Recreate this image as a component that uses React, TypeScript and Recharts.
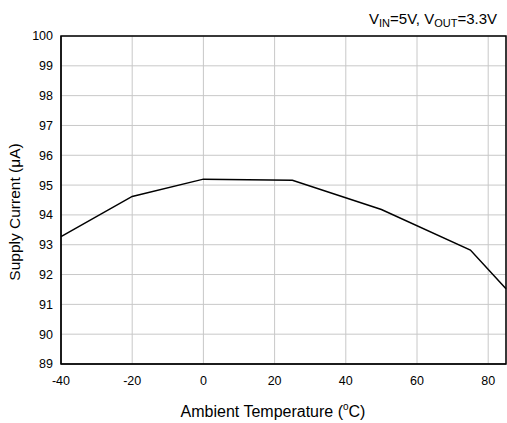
import React from "react";
import { LineChart, Line, XAxis, YAxis, CartesianGrid, ReferenceArea, Customized } from "recharts";

const temperatures = [-40, -20, 0, 25, 50, 75, 85];
const supplyCurrent = [93.27, 94.62, 95.2, 95.16, 94.18, 92.82, 91.52];
const xTicks = [-40, -20, 0, 20, 40, 60, 80];
const yTicks = [89, 90, 91, 92, 93, 94, 95, 96, 97, 98, 99, 100];

const data = temperatures.map((t, i) => ({ temp: t, current: supplyCurrent[i] }));

const font = "'Liberation Sans', Arial, sans-serif";

function Labels() {
  return (
    <g fontFamily={font} fill="#000">
      <text x={497} y={24} textAnchor="end" fontSize={15}>
        V<tspan fontSize={11} dy={3}>IN</tspan>
        <tspan dy={-3}>=5V, V</tspan>
        <tspan fontSize={11} dy={3}>OUT</tspan>
        <tspan dy={-3}>=3.3V</tspan>
      </text>
      <text x={273} y={417} textAnchor="middle" fontSize={16}>
        Ambient Temperature (<tspan fontSize={10} dy={-7}>o</tspan>
        <tspan dy={7}>C)</tspan>
      </text>
      <text x={20} y={212} textAnchor="middle" fontSize={15.5} transform="rotate(-90 20 212)">
        Supply Current (μA)
      </text>
    </g>
  );
}

export default function App() {
  return (
    <div style={{ position: "absolute", left: 0, top: 0 }}>
      <LineChart width={507} height={423} data={data} margin={{ top: 36, right: 1, bottom: 0, left: 0 }}>
        <CartesianGrid stroke="#c8c8c8" strokeWidth={1} />
        <XAxis
          dataKey="temp"
          type="number"
          domain={[-40, 85]}
          ticks={xTicks}
          height={59}
          tickLine={false}
          tickMargin={6}
          axisLine={{ stroke: "#000" }}
          tick={{ fill: "#000", fontSize: 12.5, fontFamily: font }}
        />
        <YAxis
          type="number"
          domain={[89, 100]}
          ticks={yTicks}
          width={61}
          tickLine={false}
          interval={0}
          axisLine={{ stroke: "#000" }}
          tick={{ fill: "#000", fontSize: 12.5, fontFamily: font }}
        />
        <ReferenceArea x1={-40} x2={85} y1={89} y2={100} fill="none" stroke="#000" strokeWidth={1.5} />
        <Line
          type="linear"
          dataKey="current"
          stroke="#000"
          strokeWidth={1.5}
          dot={false}
          isAnimationActive={false}
        />
        <Customized component={Labels} />
      </LineChart>
    </div>
  );
}
